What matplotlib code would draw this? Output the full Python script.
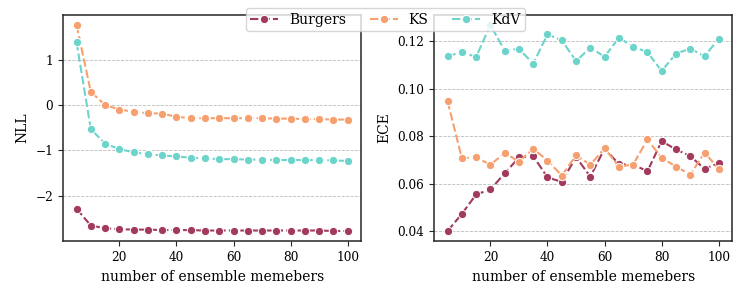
import numpy as np
import matplotlib
matplotlib.use("Agg")
from matplotlib import pyplot as plt

# ensemble sizes
members = list(range(5, 101, 5))

# NLL per dataset
nll_burgers = [-2.28, -2.65, -2.71, -2.73, -2.74, -2.74, -2.75, -2.75, -2.75, -2.76,
               -2.76, -2.76, -2.76, -2.76, -2.76, -2.76, -2.76, -2.76, -2.77, -2.77]
nll_ks = [1.76, 0.29, 0.00, -0.10, -0.15, -0.18, -0.19, -0.26, -0.29, -0.29,
          -0.29, -0.29, -0.29, -0.29, -0.30, -0.30, -0.31, -0.31, -0.32, -0.32]
nll_kdv = [1.38, -0.53, -0.85, -0.97, -1.04, -1.08, -1.11, -1.13, -1.16, -1.17,
           -1.19, -1.19, -1.20, -1.20, -1.21, -1.21, -1.21, -1.21, -1.22, -1.23]

# ECE per dataset
ece_burgers = [0.0400, 0.0472, 0.0554, 0.0575, 0.0643, 0.0710, 0.0716, 0.0626, 0.0607, 0.0712,
               0.0629, 0.0748, 0.0682, 0.0680, 0.0652, 0.0779, 0.0744, 0.0716, 0.0662, 0.0686]
ece_ks = [0.0947, 0.0707, 0.0711, 0.0679, 0.0730, 0.0692, 0.0747, 0.0697, 0.0634, 0.0719,
          0.0679, 0.0749, 0.0672, 0.0680, 0.0786, 0.0708, 0.0672, 0.0637, 0.0731, 0.0661]
ece_kdv = [0.1137, 0.1155, 0.1134, 0.1269, 0.1161, 0.1168, 0.1106, 0.1229, 0.1204, 0.1117,
           0.1173, 0.1135, 0.1215, 0.1178, 0.1154, 0.1075, 0.1148, 0.1169, 0.1137, 0.1211]

names = ["Burgers", "KS", "KdV"]
colors = ["#a13a5d", "#f6a06f", "#6cd4cb"]

plt.rcParams["font.family"] = "DejaVu Serif"

fig = plt.figure(figsize=(7.47, 2.99), dpi=100)
ax1 = fig.add_axes([0.0843, 0.193, 0.3994, 0.758])
ax2 = fig.add_axes([0.581, 0.193, 0.3994, 0.758])


def draw(ax, series, ylabel):
  for vals, name, c in zip(series, names, colors):
    ax.plot(members, vals, color=c, lw=1.5, dashes=(4, 1.5), marker="o",
            markersize=6, markeredgecolor="white", markeredgewidth=0.75, label=name)
  ax.set_xlabel("number of ensemble memebers", fontsize=10)
  ax.set_ylabel(ylabel, fontsize=10)
  ax.yaxis.grid(True, ls="--", color="#bbbbbb", lw=0.6)
  ax.set_axisbelow(True)
  ax.tick_params(labelsize=8.7, direction="out", length=3.5, color="#262626")
  ax.set_xticks([20, 40, 60, 80, 100])
  for s in ax.spines.values():
    s.set_color("#262626")
    s.set_linewidth(1.1)


draw(ax1, [nll_burgers, nll_ks, nll_kdv], "NLL")
draw(ax2, [ece_burgers, ece_ks, ece_kdv], "ECE")
ax1.set_yticks([-2, -1, 0, 1])
ax2.set_yticks([0.04, 0.06, 0.08, 0.10, 0.12])

handles, labels = ax1.get_legend_handles_labels()
fig.legend(handles, labels, loc="upper center", bbox_to_anchor=(0.516, 0.995),
           ncol=3, fontsize=10, frameon=True, handlelength=2.0, columnspacing=1.7,
           borderpad=0.3, fancybox=True)

fig.savefig("out.png", dpi=100)
